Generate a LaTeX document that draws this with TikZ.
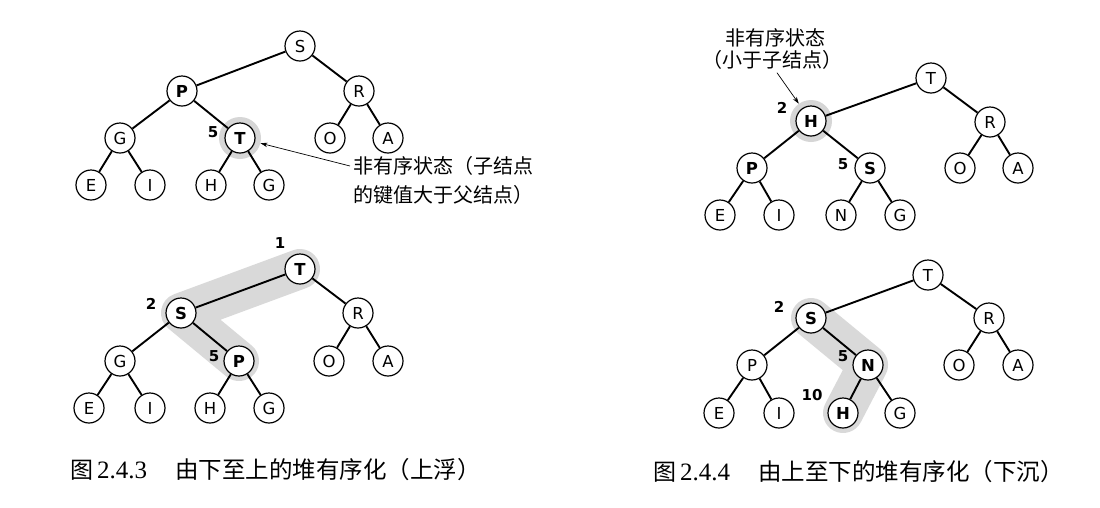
\documentclass[tikz,border=0pt]{standalone}
\usepackage{fontspec}
\setmainfont{Liberation Serif}
\newfontfamily\cjk{Noto Sans CJK SC}
\newfontfamily\lettf{DejaVu Sans}
\usetikzlibrary{arrows.meta,backgrounds}
\tikzset{
  hn/.style={circle, draw, line width=1.2pt, fill=white, minimum size=30pt, inner sep=0pt, font=\lettf\fontsize{16.5}{16.5}\selectfont},
  hb/.style={hn, font=\lettf\bfseries\fontsize{16.5}{16.5}\selectfont},
  edge/.style={line width=1.9pt},
  num/.style={font=\lettf\bfseries\fontsize{15}{15}\selectfont, inner sep=0pt},
  halo/.style={circle, fill=black!16, minimum size=42pt, inner sep=0pt},
  band/.style={line width=40pt, draw=black!15, line cap=round, line join=round},
  note/.style={font=\cjk\fontsize{20}{20}\selectfont, inner sep=0pt},
  capt/.style={font=\fontsize{23.5}{23.5}\selectfont, inner sep=0pt, anchor=west},
  pointer/.style={line width=0.7pt, -{Stealth[length=7pt,width=4.5pt]}}
}
\newcommand{\fignum}[1]{{\cjk\fontsize{23}{23}\selectfont 图}\,{\fontsize{25}{25}\selectfont #1}}
\begin{document}
\begin{tikzpicture}[x=1pt,y=-1pt]
\useasboundingbox (0,0) rectangle (1100,507);

% ---------- top-left tree ----------
\node[halo] (ahalo) at (240,138) {};
\node[hn] (aS) at (300,46) {S};
\node[hb] (aP) at (182,91) {P};
\node[hn] (aR) at (359,91) {R};
\node[hn] (aG) at (120,138) {G};
\node[hb] (aT) at (240,138) {T};
\node[hn] (aO) at (330,138) {O};
\node[hn] (aA) at (388,138) {A};
\node[hn] (aE) at (91,185) {E};
\node[hn] (aI) at (150,185) {I};
\node[hn] (aH) at (211,185) {H};
\node[hn] (aG2) at (269,185) {G};
\foreach \u/\v in {aS/aP,aS/aR,aP/aG,aP/aT,aR/aO,aR/aA,aG/aE,aG/aI,aT/aH,aT/aG2}
  \draw[edge] (\u) -- (\v);
\node[num] (a5) at (213,132) {5};
\node[note, anchor=west] (anoteA) at (353,166) {非有序状态（子结点};
\node[note, anchor=west] (anoteB) at (353,195) {的键值大于父结点）};
\draw[pointer] ([xshift=-3pt]anoteA.west) -- (ahalo);

% ---------- bottom-left tree ----------
\node[hb] (bT) at (300,269) {T};
\node[hb] (bS) at (181,313) {S};
\node[hn] (bR) at (358,313) {R};
\node[hn] (bG) at (120,361) {G};
\node[hb] (bP) at (239,361) {P};
\node[hn] (bO) at (329,361) {O};
\node[hn] (bA) at (388,361) {A};
\node[hn] (bE) at (89,408) {E};
\node[hn] (bI) at (150,408) {I};
\node[hn] (bH) at (210,408) {H};
\node[hn] (bG2) at (269,408) {G};
\foreach \u/\v in {bT/bS,bT/bR,bS/bG,bS/bP,bR/bO,bR/bA,bG/bE,bG/bI,bP/bH,bP/bG2}
  \draw[edge] (\u) -- (\v);
\node[num] (b1) at (280,243) {1};
\node[num] (b2) at (151,304) {2};
\node[num] (b5) at (214,356) {5};

% ---------- top-right tree ----------
\node[halo] (chalo) at (811,121) {};
\node[hn] (cT) at (931,78) {T};
\node[hb] (cH) at (811,121) {H};
\node[hn] (cR) at (990,122) {R};
\node[hb] (cP) at (752,168) {P};
\node[hb] (cS) at (870,168) {S};
\node[hn] (cO) at (960,168) {O};
\node[hn] (cA) at (1018,168) {A};
\node[hn] (cE) at (720,215) {E};
\node[hn] (cI) at (779,215) {I};
\node[hn] (cN) at (841,215) {N};
\node[hn] (cG) at (900,215) {G};
\foreach \u/\v in {cT/cH,cT/cR,cH/cP,cH/cS,cR/cO,cR/cA,cP/cE,cP/cI,cS/cN,cS/cG}
  \draw[edge] (\u) -- (\v);
\node[num] (c2) at (782,108) {2};
\node[num] (c5) at (843,164) {5};
\node[note] (cnoteA) at (775,38) {非有序状态};
\node[note] (cnoteB) at (772,60) {（小于子结点）};
\draw[pointer] ([xshift=5pt,yshift=-3pt]cnoteB.south) -- (chalo);

% ---------- bottom-right tree ----------
\node[hn] (dT) at (928,275) {T};
\node[hb] (dS) at (811,318) {S};
\node[hn] (dR) at (989,318) {R};
\node[hn] (dP) at (752,365) {P};
\node[hb] (dN) at (868,365) {N};
\node[hn] (dO) at (959,365) {O};
\node[hn] (dA) at (1018,365) {A};
\node[hn] (dE) at (719,413) {E};
\node[hn] (dI) at (779,413) {I};
\node[hb] (dH) at (843,413) {H};
\node[hn] (dG) at (900,413) {G};
\foreach \u/\v in {dT/dS,dT/dR,dS/dP,dS/dN,dR/dO,dR/dA,dP/dE,dP/dI,dN/dH,dN/dG}
  \draw[edge] (\u) -- (\v);
\node[num] (d2) at (779,307) {2};
\node[num] (d5) at (843,356) {5};
\node[num] (d10) at (812,395) {10};

% ---------- highlight bands ----------
\begin{scope}[on background layer]
  \fill[white] (0,0) rectangle (1100,507);
  \draw[band] (bT.center) -- (bS.center) -- (bP.center);
  \draw[band] (dS.center) -- (dN.center) -- (dH.center);
\end{scope}

% ---------- captions ----------
\node[capt] (capL1) at (70,470) {\fignum{2.4.3}};
\node[capt] (capL2) at (175,470) {\cjk 由下至上的堆有序化（上浮）};
\node[capt] (capR1) at (653,472) {\fignum{2.4.4}};
\node[capt] (capR2) at (758,472) {\cjk 由上至下的堆有序化（下沉）};
\end{tikzpicture}
\end{document}
